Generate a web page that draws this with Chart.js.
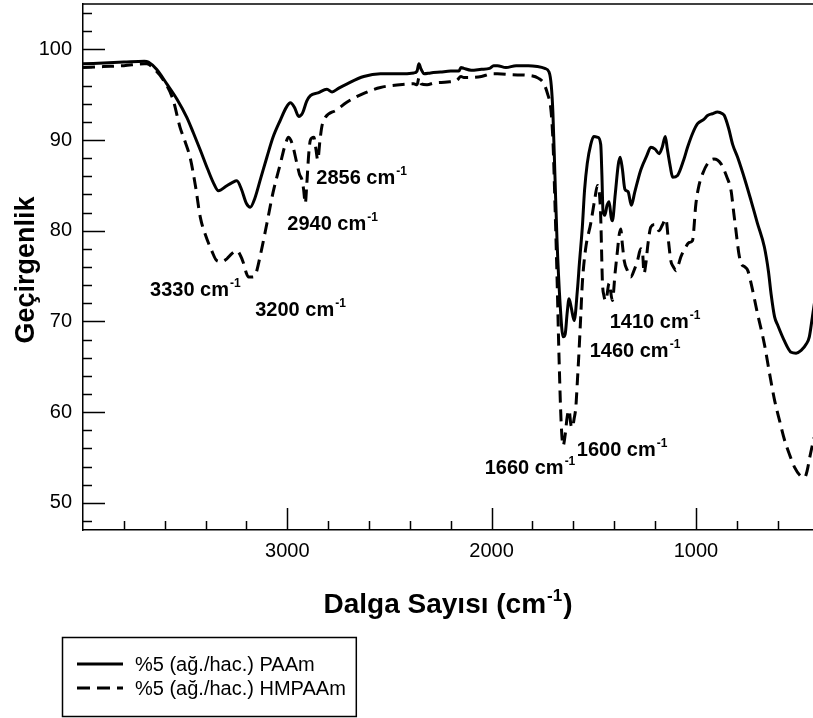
<!DOCTYPE html>
<html>
<head>
<meta charset="utf-8">
<script src="https://cdn.jsdelivr.net/npm/chart.js@4.4.0/dist/chart.umd.min.js"></script>
<style>
    html, body { margin: 0; padding: 0; background: #fff; }
    #wrap { width: 813px; height: 718px; }
</style>
</head>
<body>
<div id="wrap"><canvas id="ftirChart" width="813" height="718"></canvas></div>
<script>
    // values (wavenumber cm-1, transmittance %)
    var paamWave = [4000, 3900, 3800, 3700, 3680, 3640, 3590, 3540, 3492, 3460, 3426, 3390, 3360, 3337, 3300, 3270, 3247, 3225, 3200, 3181,
        3160, 3130, 3100, 3070, 3034, 3005, 2985, 2965, 2944, 2925, 2905, 2887, 2850, 2806, 2781, 2750, 2707, 2626, 2544, 2450,
        2381, 2365, 2356, 2345, 2330, 2299, 2250, 2200, 2160, 2150, 2136, 2100, 2050, 2010, 1990, 1972, 1930, 1880, 1820, 1776,
        1740, 1719, 1708, 1700, 1690, 1680, 1665, 1650, 1640, 1630, 1621, 1610, 1596, 1580, 1570, 1556, 1545, 1532, 1515, 1500,
        1480, 1466, 1460, 1455, 1446, 1435, 1425, 1415, 1409, 1395, 1380, 1371, 1360, 1348, 1332, 1316, 1300, 1270, 1240, 1221,
        1200, 1180, 1165, 1150, 1140, 1125, 1114, 1090, 1060, 1041, 1015, 992, 960, 943, 920, 894, 870, 861, 840, 820,
        796, 760, 730, 700, 665, 645, 632, 615, 600, 570, 534, 510, 485, 460, 445, 430, 420];
    var paamT = [98.4, 98.5, 98.6, 98.7, 98.6, 97.8, 96.2, 94.5, 92.5, 90.8, 88.9, 86.8, 85.2, 84.4, 84.9, 85.3, 85.5, 84.6, 83.0, 82.6,
        83.5, 85.8, 88.1, 90.3, 92.2, 93.6, 94.1, 93.6, 92.6, 93.0, 94.3, 94.9, 95.2, 95.6, 95.3, 95.7, 96.2, 97.0, 97.3, 97.3,
        97.4, 97.6, 98.4, 97.8, 97.3, 97.4, 97.5, 97.6, 97.6, 98.0, 97.9, 97.7, 97.8, 97.9, 98.2, 98.2, 98.0, 98.2, 98.2, 98.1,
        97.9, 97.5, 96.0, 93.0, 86.0, 79.0, 72.0, 68.3, 68.6, 71.0, 72.5, 71.5, 70.1, 73.5, 76.5, 80.4, 84.5, 87.4, 89.5, 90.4,
        90.3, 89.5, 86.0, 82.2, 81.7, 82.8, 83.2, 81.5, 81.1, 84.0, 87.3, 88.1, 86.8, 84.6, 84.3, 82.8, 84.2, 86.7, 88.3, 89.2,
        89.0, 88.5, 89.2, 90.4, 89.0, 87.0, 85.9, 86.1, 87.8, 89.2, 90.8, 91.8, 92.3, 92.7, 92.9, 93.1, 92.9, 92.7, 91.3, 89.5,
        88.1, 85.6, 83.3, 80.9, 78.2, 75.5, 73.0, 70.5, 69.6, 68.0, 66.6, 66.5, 66.8, 67.5, 68.3, 70.5, 72.0];

    var hmpaamWave = [4000, 3900, 3800, 3700, 3688, 3650, 3606, 3560, 3525, 3500, 3475, 3450, 3426, 3400, 3370, 3345, 3320, 3296, 3270, 3247,
        3230, 3214, 3200, 3190, 3170, 3157, 3130, 3100, 3070, 3034, 3010, 2994, 2975, 2953, 2940, 2928, 2920, 2912, 2905, 2895,
        2887, 2870, 2860, 2851, 2840, 2830, 2814, 2760, 2707, 2620, 2544, 2450, 2381, 2365, 2355, 2345, 2316, 2280, 2217, 2170,
        2150, 2136, 2100, 2050, 2000, 1972, 1900, 1809, 1770, 1744, 1725, 1711, 1700, 1690, 1680, 1670, 1660, 1650, 1640, 1630,
        1621, 1612, 1605, 1596, 1588, 1580, 1572, 1564, 1556, 1540, 1515, 1495, 1482, 1472, 1466, 1462, 1458, 1450, 1441, 1425,
        1409, 1395, 1384, 1376, 1368, 1360, 1351, 1335, 1319, 1300, 1286, 1270, 1262, 1254, 1245, 1235, 1221, 1200, 1180, 1165,
        1147, 1135, 1123, 1110, 1098, 1085, 1074, 1050, 1033, 1017, 1000, 985, 967, 940, 912, 895, 878, 850, 828, 815,
        804, 790, 779, 760, 746, 730, 700, 665, 640, 615, 590, 566, 540, 517, 490, 468, 455, 443, 422];
    var hmpaamT = [98.0, 98.1, 98.2, 98.4, 98.4, 97.8, 96.6, 94.5, 91.4, 89.8, 88.0, 85.0, 81.5, 79.5, 77.8, 76.7, 76.6, 76.9, 77.5, 77.8,
        77.3, 76.4, 75.3, 74.9, 74.9, 75.1, 77.5, 80.8, 84.2, 87.4, 89.5, 90.3, 89.5, 87.4, 86.2, 85.6, 84.5, 83.0, 85.0, 88.5,
        90.0, 90.3, 89.0, 87.8, 90.0, 91.6, 92.5, 93.3, 94.2, 95.2, 95.8, 96.1, 96.2, 96.1, 96.9, 96.2, 96.1, 96.3, 96.4, 96.6,
        97.0, 96.9, 96.9, 97.0, 97.3, 97.3, 97.2, 97.1, 96.8, 96.2, 95.0, 93.6, 90.0, 83.0, 75.0, 66.0, 59.0, 56.3, 57.5, 59.5,
        60.2, 58.6, 58.3, 59.3, 60.5, 63.5, 66.8, 70.5, 74.2, 78.0, 80.8, 83.5, 85.0, 84.0, 81.5, 78.0, 74.5, 72.8, 72.3, 74.2,
        72.3, 75.5, 77.8, 79.5, 80.2, 78.5, 76.7, 75.6, 74.9, 75.8, 76.7, 78.0, 77.8, 75.3, 76.4, 78.5, 80.4, 80.7, 80.0, 80.6,
        81.3, 79.0, 76.7, 76.0, 75.6, 76.3, 77.1, 78.2, 78.7, 78.9, 83.0, 85.0, 86.3, 87.5, 87.9, 87.8, 87.4, 86.0, 84.4, 82.0,
        80.0, 77.5, 76.4, 76.0, 75.6, 74.2, 71.0, 67.5, 64.3, 61.3, 59.0, 56.9, 55.2, 53.9, 53.0, 52.8, 53.6, 55.0, 57.2];

    var seriesNames = ["%5 (ağ./hac.) PAAm", "%5 (ağ./hac.) HMPAAm"];
    var xTickLabels = [1000, 2000, 3000];
    var yTickLabels = [50, 60, 70, 80, 90, 100];

    // peak annotations, anchored in data coordinates (left edge, middle of text)
    var peakLabels = [
        { text: "3330 cm", w: 3672, t: 73.6 },
        { text: "3200 cm", w: 3157, t: 71.4 },
        { text: "2940 cm", w: 3000, t: 80.8 },
        { text: "2856 cm", w: 2858, t: 85.9 },
        { text: "1660 cm", w: 2034, t: 53.9 },
        { text: "1600 cm", w: 1583, t: 55.9 },
        { text: "1460 cm", w: 1520, t: 66.9 },
        { text: "1410 cm", w: 1422, t: 70.1 }
    ];

    var FONT = "'Liberation Sans', Arial, Helvetica, sans-serif";

    function toPoints(wave, vals) {
        return wave.map(function (w, i) { return { x: w, y: vals[i] }; });
    }

    function textWithSup(ctx, main, sup, x, y, mainSize, supSize, rise) {
        ctx.font = "bold " + mainSize + "px " + FONT;
        ctx.fillText(main, x, y);
        var wMain = ctx.measureText(main).width;
        ctx.font = "bold " + supSize + "px " + FONT;
        ctx.fillText(sup, x + wMain + 1, y - rise);
        return wMain + 1 + ctx.measureText(sup).width;
    }

    var ftirDecor = {
        id: "ftirDecor",
        afterDraw: function (chart) {
            var ctx = chart.ctx, a = chart.chartArea, xs = chart.scales.x, ys = chart.scales.y;
            ctx.save();
            ctx.strokeStyle = "#000";
            ctx.fillStyle = "#000";
            ctx.lineWidth = 1.5;

            // top frame line
            ctx.beginPath();
            ctx.moveTo(a.left, a.top);
            ctx.lineTo(a.right, a.top);
            ctx.stroke();

            // inward tick marks
            ctx.beginPath();
            for (var v = 48; v <= 104; v += 2) {
                var py = Math.round(ys.getPixelForValue(v)) + 0.5;
                ctx.moveTo(a.left, py);
                ctx.lineTo(a.left + (v % 10 === 0 ? 22 : 9), py);
            }
            for (var w = 600; w <= 3800; w += 200) {
                var px = Math.round(xs.getPixelForValue(w)) + 0.5;
                ctx.moveTo(px, a.bottom);
                ctx.lineTo(px, a.bottom - (w % 1000 === 0 ? 22 : 9));
            }
            ctx.stroke();

            // peak labels
            ctx.textAlign = "left";
            ctx.textBaseline = "alphabetic";
            peakLabels.forEach(function (p) {
                var lx = xs.getPixelForValue(p.w);
                var ly = ys.getPixelForValue(p.t) + 7;
                textWithSup(ctx, p.text, "-1", lx, ly, 20, 12, 9);
            });

            // x axis title
            ctx.font = "bold 28px " + FONT;
            var t1 = "Dalga Sayısı (cm", t2 = ")";
            var w1 = ctx.measureText(t1).width, w3 = ctx.measureText(t2).width;
            ctx.font = "bold 17px " + FONT;
            var w2 = ctx.measureText("-1").width;
            var total = w1 + w2 + 2 + w3;
            var tx = (a.left + a.right) / 2 - total / 2;
            var wsup = textWithSup(ctx, t1, "-1", tx, 613, 28, 17, 12);
            ctx.font = "bold 28px " + FONT;
            ctx.fillText(t2, tx + wsup + 1, 613);

            // y axis title
            ctx.save();
            ctx.translate(34, (a.top + a.bottom) / 2 + 3);
            ctx.rotate(-Math.PI / 2);
            ctx.textAlign = "center";
            ctx.font = "bold 27px " + FONT;
            ctx.fillText("Geçirgenlik", 0, 0);
            ctx.restore();

            // legend box
            ctx.font = "20px " + FONT;
            var maxW = Math.max(ctx.measureText(seriesNames[0]).width, ctx.measureText(seriesNames[1]).width);
            ctx.lineWidth = 1.5;
            ctx.strokeRect(62.5, 637.5, 135 + maxW + 10 - 62, 79);
            ctx.textBaseline = "middle";
            var rows = [664, 688];
            chart.data.datasets.forEach(function (ds, i) {
                ctx.beginPath();
                ctx.lineWidth = 3;
                ctx.setLineDash(ds.borderDash ? [13, 7] : []);
                ctx.moveTo(77, rows[i]);
                ctx.lineTo(123, rows[i]);
                ctx.stroke();
                ctx.setLineDash([]);
                ctx.fillText(seriesNames[i], 135, rows[i] + 1);
            });
            ctx.restore();
        }
    };

    function noPad(s) {
        s.paddingTop = 0;
        s.paddingBottom = 0;
        s.paddingLeft = 0;
        s.paddingRight = 0;
    }

    new Chart(document.getElementById("ftirChart"), {
        type: "line",
        data: {
            datasets: [{
                label: seriesNames[0],
                data: toPoints(paamWave, paamT),
                borderColor: "#000",
                borderWidth: 3,
                pointRadius: 0,
                cubicInterpolationMode: "monotone",
                fill: false
            }, {
                label: seriesNames[1],
                data: toPoints(hmpaamWave, hmpaamT),
                borderColor: "#000",
                borderWidth: 3,
                borderDash: [12, 7],
                pointRadius: 0,
                cubicInterpolationMode: "monotone",
                fill: false
            }]
        },
        options: {
            responsive: false,
            animation: false,
            layout: { padding: { top: 4, right: 0, left: 0, bottom: 0 } },
            plugins: {
                legend: { display: false },
                tooltip: { enabled: false }
            },
            scales: {
                x: {
                    type: "linear",
                    reverse: true,
                    min: 427,
                    max: 4000,
                    grid: { display: false, drawTicks: false },
                    border: { display: true, color: "#000", width: 1.5 },
                    ticks: {
                        color: "#000", font: { family: FONT, size: 20 }, padding: 9, maxRotation: 0, autoSkip: false,
                        callback: function (v) { return String(v); }
                    },
                    afterBuildTicks: function (s) { s.ticks = xTickLabels.map(function (v) { return { value: v }; }); },
                    afterFit: function (s) { s.height = 188; noPad(s); }
                },
                y: {
                    min: 47,
                    max: 105,
                    grid: { display: false, drawTicks: false },
                    border: { display: true, color: "#000", width: 1.5 },
                    ticks: {
                        color: "#000", font: { family: FONT, size: 20 }, padding: 11,
                        callback: function (v) { return String(v); }
                    },
                    afterBuildTicks: function (s) { s.ticks = yTickLabels.map(function (v) { return { value: v }; }); },
                    afterFit: function (s) { s.width = 83; noPad(s); }
                }
            }
        },
        plugins: [ftirDecor]
    });
</script>
</body>
</html>
